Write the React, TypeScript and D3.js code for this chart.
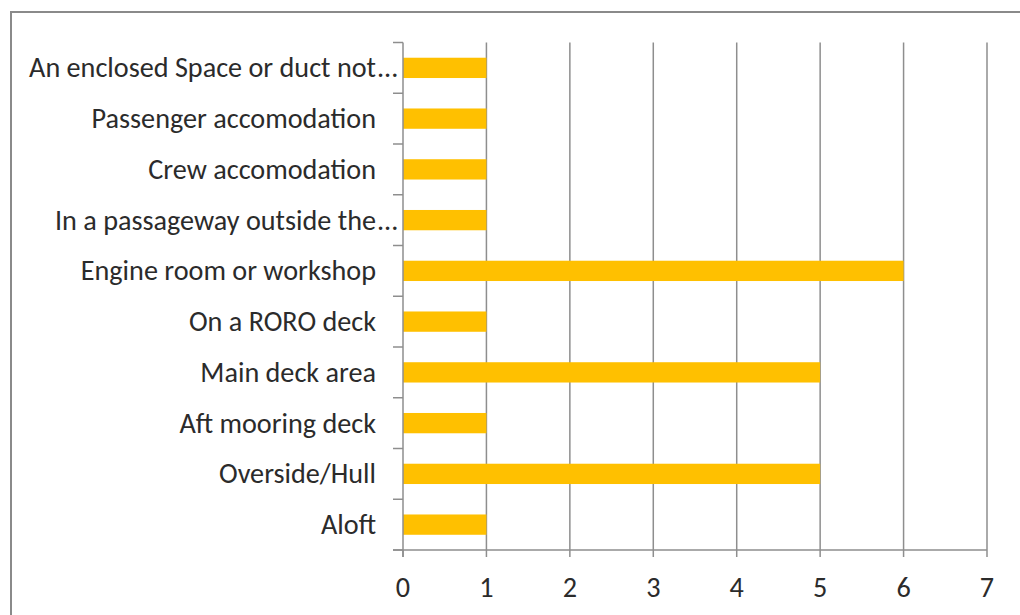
import React from "react";
import * as d3 from "d3";

const categories = [
  "An enclosed Space or duct not...",
  "Passenger accomodation",
  "Crew accomodation",
  "In a passageway outside the...",
  "Engine room or workshop",
  "On a RORO deck",
  "Main deck area",
  "Aft mooring deck",
  "Overside/Hull",
  "Aloft",
];
const values = [1, 1, 1, 1, 6, 1, 5, 1, 5, 1];
const xTicks = [0, 1, 2, 3, 4, 5, 6, 7];

const W = 1020;
const H = 615;
const FONT = "Carlito, Lato, 'Open Sans', sans-serif";

export default function App() {
  const x = d3.scaleLinear().domain([0, 7]).range([403, 987]);
  const y = d3
    .scaleBand<string>()
    .domain(categories)
    .range([42.5, 550])
    .paddingInner(0.6)
    .paddingOuter(0.3);
  const step = y.step();
  const top = 42.5;
  const bottom = 550;
  const gridColor = "#8e8e8e";
  const textColor = "#2b2b2b";
  const fs = 28.2;
  const labelEnd = 376;

  return (
    <svg
      width={W}
      height={H}
      style={{ position: "absolute", left: 0, top: 0, background: "#fff" }}
    >
      <rect x={0} y={0} width={W} height={H} fill="#fff" />
      <rect x={11} y={12} width={W + 50} height={H + 50} fill="none" stroke="#8a8a8a" strokeWidth={2} />
      {/* vertical gridlines */}
      {xTicks.slice(1).map((t) => (
        <line key={"g" + t} x1={x(t)} x2={x(t)} y1={top} y2={bottom} stroke={gridColor} strokeWidth={1.5} />
      ))}
      {/* bars */}
      {categories.map((c, i) => (
        <rect
          key={"b" + c}
          x={x(0)}
          y={y(c)!}
          width={x(values[i]) - x(0)}
          height={y.bandwidth()}
          fill="#FFC000"
        />
      ))}
      {/* left axis */}
      <line x1={x(0)} x2={x(0)} y1={top} y2={bottom + 7} stroke={gridColor} strokeWidth={1.5} />
      {d3.range(categories.length + 1).map((k) => (
        <line key={"ct" + k} x1={393} x2={x(0)} y1={top + k * step} y2={top + k * step} stroke={gridColor} strokeWidth={1.5} />
      ))}
      {/* bottom axis */}
      <line x1={393} x2={x(7)} y1={bottom} y2={bottom} stroke={gridColor} strokeWidth={1.5} />
      {xTicks.map((t) => (
        <line key={"xt" + t} x1={x(t)} x2={x(t)} y1={bottom} y2={bottom + 7} stroke={gridColor} strokeWidth={1.5} />
      ))}
      {xTicks.map((t) => (
        <text
          key={"xl" + t}
          x={x(t)}
          y={587}
          textAnchor="middle"
          dominantBaseline="central"
          fontFamily={FONT}
          fontSize={fs}
          fill={textColor}
        >
          {t}
        </text>
      ))}
      {/* category labels */}
      {categories.map((c) => {
        const cy = y(c)! + y.bandwidth() / 2;
        const trunc = c.endsWith("...");
        const main = trunc ? c.slice(0, -3) : c;
        return (
          <g key={"l" + c}>
            <text
              x={labelEnd}
              y={cy}
              textAnchor="end"
              dominantBaseline="central"
              fontFamily={FONT}
              fontSize={fs}
              fill={textColor}
            >
              {main}
            </text>
            {trunc && (
              <text
                x={labelEnd + 1}
                y={cy}
                textAnchor="start"
                dominantBaseline="central"
                fontFamily={FONT}
                fontSize={fs}
                fill={textColor}
              >
                ...
              </text>
            )}
          </g>
        );
      })}
    </svg>
  );
}
